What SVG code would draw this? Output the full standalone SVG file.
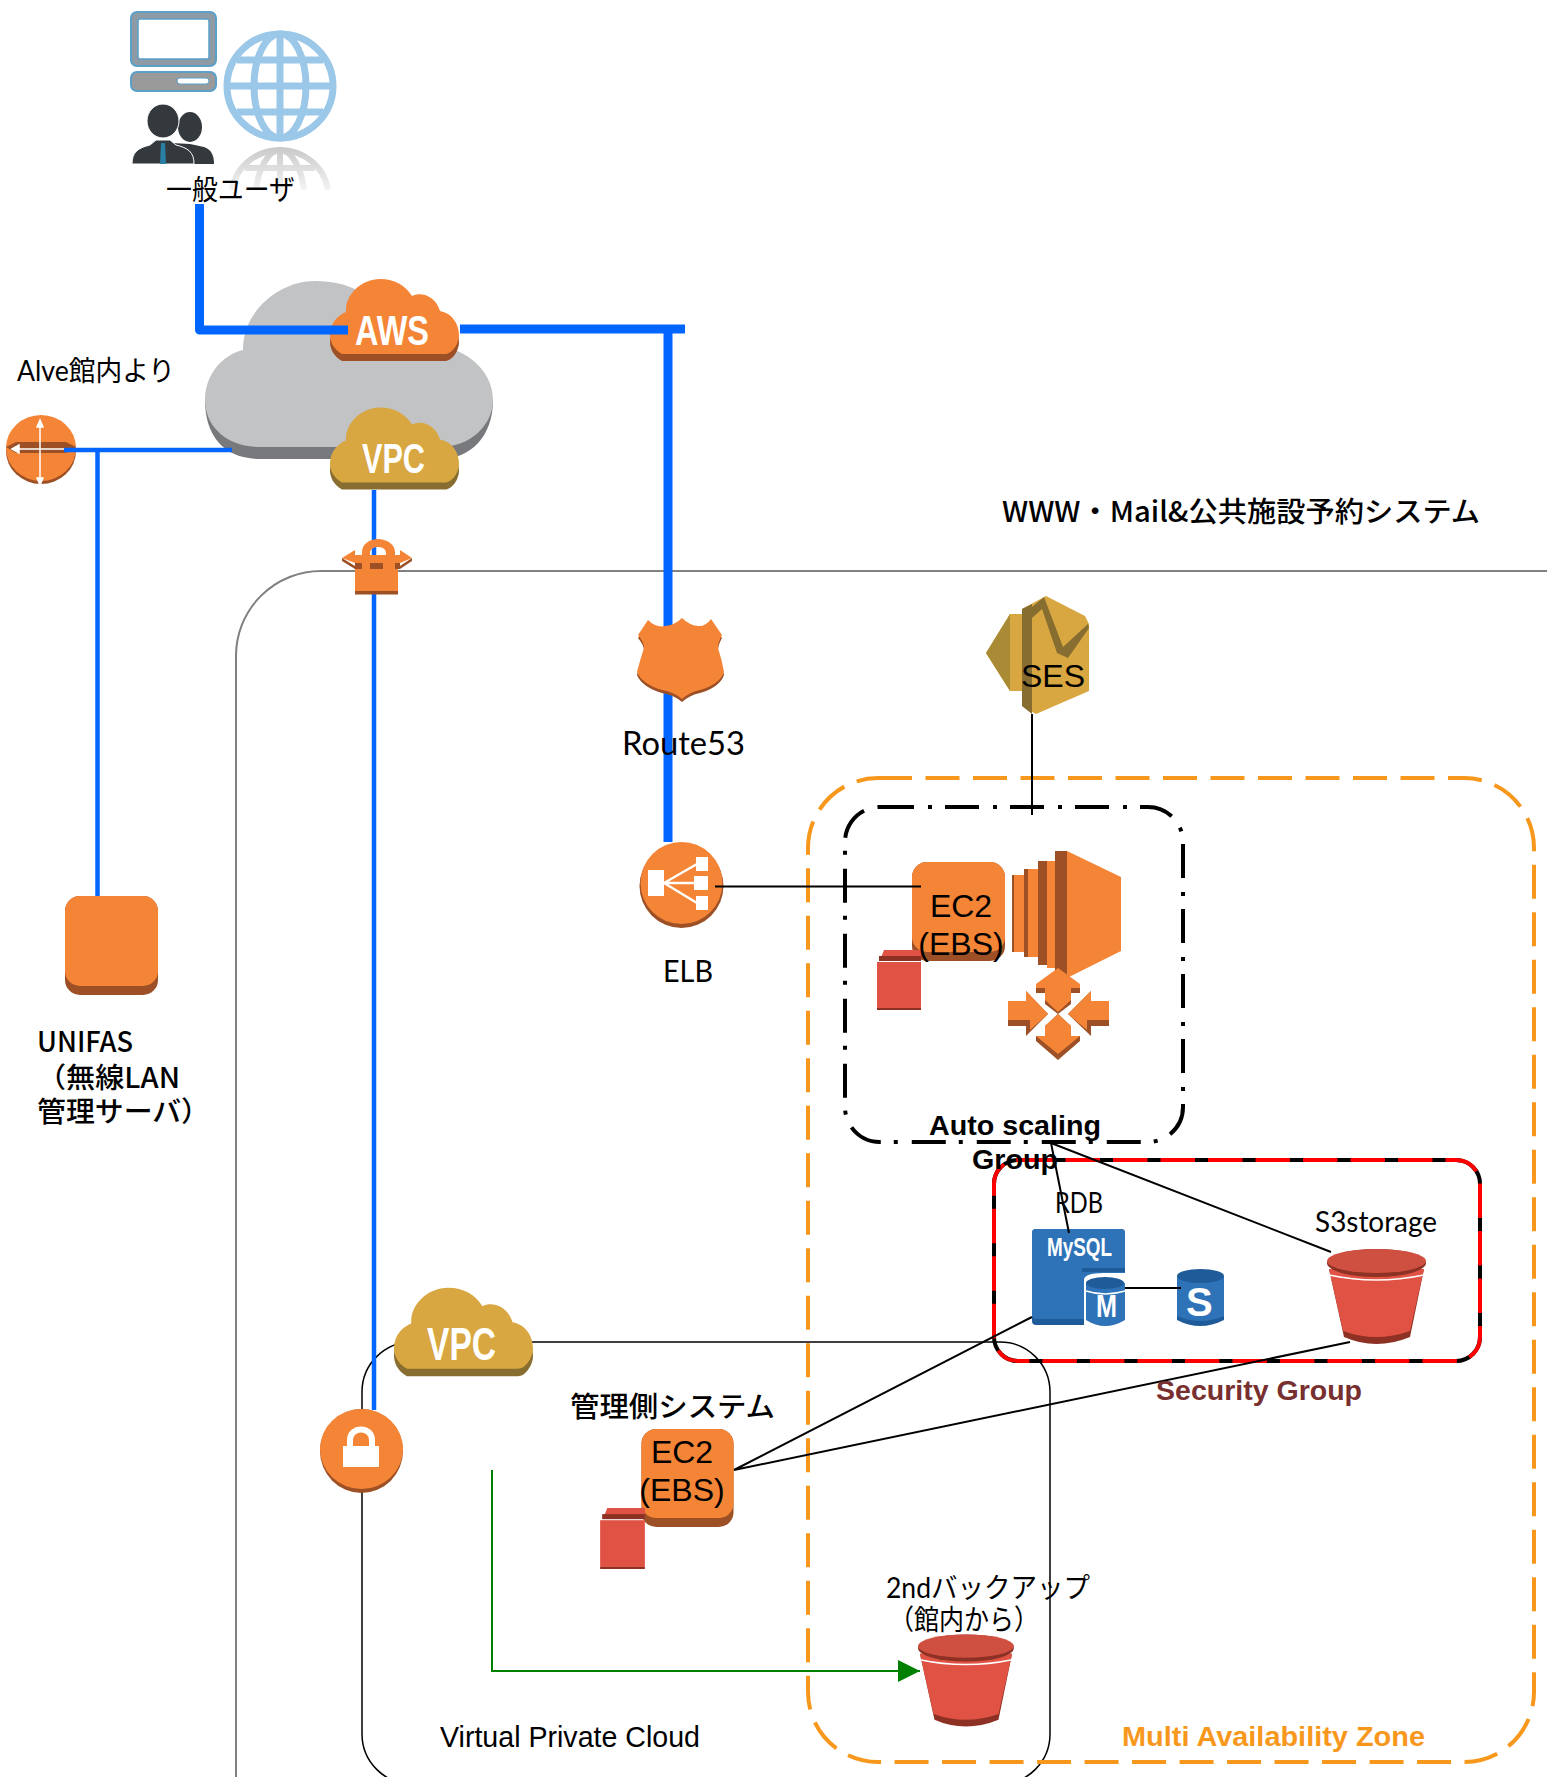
<svg xmlns="http://www.w3.org/2000/svg" xmlns:xlink="http://www.w3.org/1999/xlink" width="1547" height="1777" viewBox="0 0 1547 1777">
<style>
text{font-family:"Liberation Sans","Noto Sans CJK JP",sans-serif;fill:#000}
.l{font-family:Lato,"Noto Sans CJK JP",sans-serif;font-weight:400;font-size:28px}
.m{font-family:"Noto Sans CJK JP",sans-serif;font-weight:500;font-size:28px}
.b{font-weight:700;font-size:28px}
.a{font-size:32px;text-anchor:middle}
.w{font-family:"Liberation Sans Narrow","Liberation Sans",sans-serif;font-weight:700;fill:#fff}
.o{fill:#f58536}.d{fill:#9d5025}.g{fill:#d9a741}.gd{fill:#876d30}
.t{fill:none;stroke:#000;stroke-width:2}
.bl{fill:none;stroke:#06f}
</style>
<defs>
<path id="cp" d="M12,75C3,70 0,62 0,56C0,44 8,36 16,33C15,15 32,0 50,0C65,0 76,7 82,17C92,12 106,18 110,32C122,34 129,45 129,56C129,65 122,75 115,75Z"/>
<symbol id="cloudO" viewBox="0 0 129 82"><use href="#cp" y="7" class="d"/><use href="#cp" class="o"/></symbol>
<symbol id="cloudG" viewBox="0 0 129 82"><use href="#cp" y="7" class="gd"/><use href="#cp" class="g"/></symbol>
<symbol id="srv" viewBox="0 0 93 99"><rect width="93" height="99" rx="15" class="d"/><rect width="93" height="90" rx="15" class="o"/></symbol>
<symbol id="bkt" viewBox="0 0 99 96">
<path d="M2,20L17,88Q49,102 83,88L97,20Z" fill="#8c3123"/>
<path d="M2,20L16,82Q49,94 83,82L97,20Z" fill="#e05243"/>
<path d="M2,26Q49,36 97,26" fill="none" stroke="#fff" stroke-width="1.5"/>
<ellipse cx="49.5" cy="14" rx="49.5" ry="14" fill="#8c3123"/>
<ellipse cx="49.5" cy="12" rx="49.5" ry="12" fill="#cf5040"/>
</symbol>
<symbol id="vol" viewBox="0 0 44 60">
<path d="M3,10L7,0H44V10Z" fill="#e05243"/><rect x="2" y="6" width="42" height="5" fill="#8c3123"/>
<rect y="12" width="44" height="46" fill="#e05243"/><rect y="58" width="44" height="2" fill="#8c3123"/>
</symbol>
<linearGradient id="fade" gradientUnits="userSpaceOnUse" x1="0" y1="146" x2="0" y2="202"><stop offset="0" stop-color="#c8c8c8"/><stop offset="1" stop-color="#fff"/></linearGradient>
<marker id="tri" viewBox="0 0 22 22" refX="22" refY="11" markerWidth="22" markerHeight="22" markerUnits="userSpaceOnUse" orient="auto"><path d="M0,0L22,11L0,22Z" fill="#008000"/></marker>
</defs>

<g id="containers">
<path d="M1547,571H321A85,85 0 0 0 236,656V1777" fill="none" stroke="#808080" stroke-width="2"/>
<rect id="vpc-box" x="362" y="1342" width="688" height="442" rx="50" fill="none" stroke="#000" stroke-width="1.5"/>
<rect id="multi-az" x="808" y="778" width="726" height="984" rx="70" fill="none" stroke="#f7981d" stroke-width="4" stroke-dasharray="34 13.5"/>
<rect id="autoscale-box" x="845" y="807" width="338" height="335" rx="35" fill="none" stroke="#000" stroke-width="4" stroke-dasharray="34 14 4 13"/>
<g id="security-box"><rect x="994" y="1160" width="486" height="201" rx="24" fill="none" stroke="#000" stroke-width="4"/>
<rect x="994" y="1160" width="486" height="201" rx="24" fill="none" stroke="#f00" stroke-width="4" stroke-dasharray="34.5 13"/></g>
</g>

<g id="users">
<rect x="131" y="12" width="85" height="54" rx="6" fill="#8e9ba5" stroke="#5aa0c8" stroke-width="2"/>
<rect x="138" y="19" width="71" height="40" rx="2" fill="#fff" stroke="#5aa0c8" stroke-width="1.5"/>
<rect x="131" y="72" width="85" height="19" rx="6" fill="#9a9a9a" stroke="#5aa0c8" stroke-width="2"/>
<rect x="177" y="78" width="32" height="6" rx="3" fill="#fff" stroke="#5aa0c8"/>
<ellipse cx="190" cy="127" rx="12" ry="15" fill="#33393c"/>
<path d="M172,164V143L190,144L204,147C212,150 214,156 214,164Z" fill="#33393c"/>
<ellipse cx="163" cy="121" rx="16" ry="17" fill="#33393c" stroke="#fff" stroke-width="1"/>
<path d="M132,164C132,152 138,148 150,145L156,140H170L176,145C188,148 194,152 194,164Z" fill="#33393c" stroke="#fff" stroke-width="1"/>
<path d="M161,143H165L166,164H160Z" fill="#2a7fa5"/>
</g>
<g id="globe" fill="none" stroke="#9bc7e8" stroke-width="7">
<ellipse cx="280" cy="86" rx="53" ry="52"/><ellipse cx="280" cy="86" rx="26" ry="52"/>
<path d="M280,34V138M229,86H331M237,60H323M237,112H323"/>
</g>
<g id="globe-reflection" fill="none" stroke="url(#fade)" stroke-width="6">
<path d="M232,190C236,165 258,150 280,150C302,150 324,165 328,190"/>
<path d="M256,190C258,170 268,150 280,150C292,150 302,170 304,190M280,150V200M245,168H315"/>
</g>
<text id="lbl-user" class="l" x="166" y="200" textLength="129" lengthAdjust="spacingAndGlyphs">一般ユーザ</text>

<g id="internet-cloud">
<path d="M260,459C225,459 205,437 205,400H493C493,437 470,459 440,459Z" fill="#77797c"/>
<path d="M260,447C225,447 205,425 205,400C205,375 222,355 243,350C243,310 280,281 315,281C350,281 370,295 385,315C420,300 450,340 455,350C480,360 493,380 493,400C493,425 470,447 440,447Z" fill="#c1c3c5"/>
</g>
<g id="aws"><use href="#cloudO" x="330" y="279" width="129" height="82"/>
<text class="w" x="355" y="345" font-size="42" textLength="74" lengthAdjust="spacingAndGlyphs">AWS</text></g>
<g id="vpc1"><use href="#cloudG" x="330" y="407" width="129" height="83"/>
<text class="w" x="362" y="473" font-size="42" textLength="63" lengthAdjust="spacingAndGlyphs">VPC</text></g>

<g id="router">
<ellipse cx="41" cy="451" rx="35" ry="33" class="d"/><ellipse cx="41" cy="448" rx="35" ry="33" class="o"/>
<path d="M6,447L16,442H66L76,447L66,453H16Z" class="d"/>
<path d="M12,449H66M40,420V485M12,449l7,-4v8zM40,420l-3,7h6zM40,485l-3,-7h6z" stroke="#fff" stroke-width="1.5" fill="#fff"/>
</g>
<text id="lbl-alve" class="l" x="17" y="381" textLength="158" lengthAdjust="spacingAndGlyphs">Alve館内より</text>

<g id="unifas"><use href="#srv" x="65" y="896" width="93" height="99"/>
<text class="m" x="37" y="1052" textLength="96" lengthAdjust="spacingAndGlyphs">UNIFAS</text>
<text class="m" x="37" y="1088" textLength="143" lengthAdjust="spacingAndGlyphs">（無線LAN</text>
<text class="m" x="37" y="1122" textLength="173" lengthAdjust="spacingAndGlyphs">管理サーバ）</text></g>

<g id="elb">
<circle cx="681.5" cy="886" r="42" class="d"/><circle cx="681.5" cy="883" r="41" class="o"/>
<path d="M648,870H664V896H648ZM696,857H708V871H696ZM694,876H708V890H694ZM696,896H708V910H696Z" fill="#fff"/>
<path d="M664,883L697,864M664,883H695M664,883L697,903" stroke="#fff" stroke-width="2.5" fill="none"/>
</g>
<text id="lbl-elb" class="l" x="663" y="982" textLength="50" lengthAdjust="spacingAndGlyphs" style="font-size:30px">ELB</text>

<g id="ses">
<path d="M986,653L1010,614H1022V691H1010Z" class="g"/><path d="M986,653L1010,614V691Z" fill="#a98a35"/>
<path d="M1022,609L1046,596L1085,616L1089,624V691L1036,714L1022,706Z" class="g"/>
<path d="M1022,609L1032,604V714L1022,706Z" class="gd"/>
<path d="M1032,607L1044,597L1063,647L1088,624L1089,628L1068,658L1057,653L1042,609L1032,618Z" class="gd"/>
<text class="a" x="1053" y="687">SES</text>
</g>

<g id="ec2a">
<use href="#srv" x="912" y="862" width="93" height="99"/>
<use href="#vol" x="877" y="950" width="44" height="60"/>
<text class="a" x="961" y="917">EC2</text><text class="a" x="961" y="955">(EBS)</text>
</g>
<g id="instance">
<path d="M1012,875H1014V952H1012ZM1024,869H1028V957H1024ZM1038,861H1047V965H1038ZM1055,851H1067V978H1055Z" class="d"/>
<path d="M1014,875H1024V952H1014ZM1028,869H1038V957H1028ZM1047,861H1055V968H1047ZM1067,851L1121,877V951L1067,978Z" class="o"/>
</g>
<g id="autoscale-arrows">
<path d="M1058,968L1080,988V993H1071V1004L1058,1014L1045,1004V993H1036V988Z" class="d"/>
<path d="M1058,968L1080,984V988H1071V1000L1058,1012L1045,1000V988H1036V984Z" class="o"/>
<path d="M1058,1014L1071,1026V1036H1080V1041L1058,1060L1036,1041V1036H1045V1026Z" class="d"/>
<path d="M1058,1014L1071,1026V1036H1080L1058,1054L1036,1036H1045V1026Z" class="o"/>
<path d="M1008,1001H1026V991L1048,1014L1026,1036V1026H1008Z" class="d"/>
<path d="M1008,1001H1026V991L1048,1014L1030,1030V1020H1008Z" class="o"/>
<path d="M1109,1001H1091V991L1068,1014L1091,1036V1026H1109Z" class="d"/>
<path d="M1109,1001H1091V991L1068,1014L1087,1030V1020H1109Z" class="o"/>
</g>

<g id="rdb">
<rect x="1032" y="1229" width="93" height="96" rx="4" fill="#205b99"/>
<rect x="1032" y="1229" width="93" height="90" rx="4" fill="#2e73b8"/>
<text class="w" x="1047" y="1256" font-size="25" textLength="65" lengthAdjust="spacingAndGlyphs">MySQL</text>
<path d="M1084,1325V1280Q1084,1273 1104,1273H1125V1325Z" fill="#fff"/>
<path d="M1086,1283Q1105,1275 1125,1283V1320Q1105,1332 1086,1320Z" fill="#2e73b8"/>
<ellipse cx="1105" cy="1283" rx="19" ry="6" fill="#205b99"/>
<path d="M1086,1291Q1105,1297 1125,1291" fill="none" stroke="#fff" stroke-width="1.5"/>
<path d="M1082,1268H1125V1272H1082Z" fill="#205b99"/>
<text x="1096" y="1317" font-size="32" font-weight="700" style="fill:#fff" textLength="21" lengthAdjust="spacingAndGlyphs">M</text>
<text class="l" x="1055" y="1213" textLength="48" lengthAdjust="spacingAndGlyphs">RDB</text>
</g>
<g id="slave-db">
<path d="M1177,1276H1224V1320Q1200,1332 1177,1320Z" fill="#205b99"/>
<path d="M1177,1276H1224V1316Q1200,1326 1177,1316Z" fill="#2e73b8"/>
<ellipse cx="1200.5" cy="1276" rx="23.5" ry="7" fill="#205b99"/>
<text x="1186" y="1316" font-size="40" font-weight="700" style="fill:#fff">S</text>
</g>
<g id="s3"><use href="#bkt" x="1327" y="1249" width="99" height="96"/>
<text class="l" x="1315" y="1232" textLength="122" lengthAdjust="spacingAndGlyphs">S3storage</text></g>

<g id="ec2b">
<use href="#srv" x="641" y="1429" width="93" height="98"/>
<use href="#vol" x="600" y="1508" width="45" height="61"/>
<text class="a" x="682" y="1463">EC2</text><text class="a" x="682" y="1501">(EBS)</text>
</g>
<text id="lbl-admin" class="m" x="570" y="1417" textLength="205" lengthAdjust="spacingAndGlyphs">管理側システム</text>
<g id="vpc2"><use href="#cloudG" x="394" y="1287" width="139" height="90"/>
<text class="w" x="427" y="1360" font-size="46" textLength="69" lengthAdjust="spacingAndGlyphs">VPC</text></g>
<g id="backup"><use href="#bkt" x="918" y="1633" width="96" height="96"/>
<text class="l" x="886" y="1598" textLength="204" lengthAdjust="spacingAndGlyphs">2ndバックアップ</text>
<text class="l" x="889" y="1630" textLength="150" lengthAdjust="spacingAndGlyphs">（館内から）</text></g>

<g id="connectors">
<path class="bl" stroke-width="9" stroke-linejoin="round" d="M199.5,204V330H348"/>
<path class="bl" stroke-width="9" d="M460,329H685M668,329V842"/>
<path class="bl" stroke-width="4.5" d="M64,450H232M97.5,450V896M374,490V1410"/>
<path class="t" d="M715,886.5H921M1032,714V815M1051,1143L1069,1233M1051,1143L1331,1252M1125,1288H1181M734,1470L1032,1317M734,1470L1350,1342"/>
<path fill="none" stroke="#008000" stroke-width="2" marker-end="url(#tri)" d="M492,1470V1671H920"/>
</g>

<g id="route53">
<path transform="translate(0,3)" d="M648,620Q656,628 665,626Q675,625 682,618Q689,625 698,626Q705,627 711,619L722,635Q718,642 718,648Q722,660 724,672Q720,684 700,690Q690,692 682,699Q674,692 662,690Q642,684 637,672Q640,660 644,648Q644,642 638,635Z" class="d"/>
<path d="M648,620Q656,628 665,626Q675,625 682,618Q689,625 698,626Q705,627 711,619L722,635Q718,642 718,648Q722,660 724,672Q720,684 700,690Q690,692 682,699Q674,692 662,690Q642,684 637,672Q640,660 644,648Q644,642 638,635Z" class="o"/>
<text class="l" x="622" y="755" textLength="123" lengthAdjust="spacingAndGlyphs" style="font-size:32px">Route53</text>
</g>
<g id="gateway">
<path d="M342,558L355,566V563H400V566L412,558V561L400,569H355L342,561Z" class="d"/>
<rect x="355" y="569" width="43" height="23" class="o"/><rect x="355" y="591" width="43" height="3.5" class="d"/>
<path d="M362,569V563H370V569ZM383,569V563H395V569Z" class="o"/>
<path fill-rule="evenodd" class="o" d="M342,558L355,550V555H362V552C362,544 370,539 378,539C386,539 395,544 395,552V555H400V550L412,558L400,563H355ZM370,553V555H386V553C386,545 370,545 370,553Z"/>
</g>
<g id="vpn-lock">
<ellipse cx="361.5" cy="1451" rx="41.5" ry="42" class="d"/><ellipse cx="361.5" cy="1449" rx="41.5" ry="40" class="o"/>
<rect x="343" y="1446" width="36" height="21" fill="#fff"/>
<path d="M350,1447V1440C350,1426 372,1426 372,1440V1447" fill="none" stroke="#fff" stroke-width="6"/>
</g>

<g id="labels">
<text class="m" x="1002" y="522" textLength="478" lengthAdjust="spacingAndGlyphs">WWW・Mail&amp;公共施設予約システム</text>
<text class="b" x="929" y="1135" textLength="172" lengthAdjust="spacingAndGlyphs">Auto scaling</text>
<text class="b" x="972" y="1169" textLength="86" lengthAdjust="spacingAndGlyphs">Group</text>
<text class="b" x="1156" y="1400" style="fill:#772f2f" textLength="206" lengthAdjust="spacingAndGlyphs">Security Group</text>
<text class="b" x="1122" y="1746" style="fill:#f7981d" textLength="303" lengthAdjust="spacingAndGlyphs">Multi Availability Zone</text>
<text x="440" y="1747" font-size="29" textLength="260" lengthAdjust="spacingAndGlyphs">Virtual Private Cloud</text>
</g>
</svg>
